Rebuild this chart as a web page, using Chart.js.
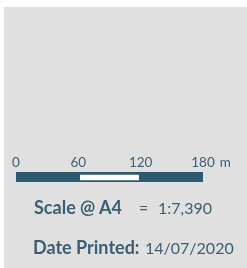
<!DOCTYPE html>
<html>
<head>
<meta charset="utf-8">
<script src="https://cdn.jsdelivr.net/npm/chart.js@4"></script>
<style>
  html, body { margin: 0; padding: 0; background: #ffffff; }
  body { width: 247px; height: 268px; position: relative; overflow: hidden; }
  #panel { position: absolute; left: 4px; top: 7px; right: 0; bottom: 0; background: #e0e0e0; }
  #wrap { position: absolute; left: 0; top: 0; width: 247px; height: 268px; }
  .t { position: absolute; white-space: nowrap; font-family: Lato, "Open Sans", sans-serif; color: #3a5f73; line-height: 1; }
  .b { font-weight: bold; }
</style>
</head>
<body>
<div id="panel"></div>
<div id="wrap"><canvas id="c" width="247" height="268"></canvas></div>
<span class="t b" id="scaleLbl" style="left:34px; top:198px; font-size:18px;"></span>
<span class="t" id="scaleEq" style="left:139px; top:200px; font-size:16px;"></span>
<span class="t" id="scaleVal" style="left:158px; top:200px; font-size:16px;"></span>
<span class="t b" id="dateLbl" style="left:33px; top:238px; font-size:18px;"></span>
<span class="t" id="dateVal" style="left:145px; top:240px; font-size:16px;"></span>
<script>
// ---- data ----
const tickValues = [0, 60, 120, 180];
const unitLabel = 'm';
const darkSegments = [[0, 60], [120, 180]];
const lightSegments = [[60, 120]];
const scaleLabel = 'Scale @ A4';
const scaleEquals = '=';
const scaleValue = '1:7,390';
const dateLabel = 'Date Printed:';
const dateValue = '14/07/2020';

document.getElementById('scaleLbl').textContent = scaleLabel;
document.getElementById('scaleEq').textContent = scaleEquals;
document.getElementById('scaleVal').textContent = scaleValue;
document.getElementById('dateLbl').textContent = dateLabel;
document.getElementById('dateVal').textContent = dateValue;

const DARK = '#2e5a6f';
const TEXT = '#3a5f73';
const TICK_FONT = 13.5;

const datasets = [];
darkSegments.forEach(s => datasets.push({
  data: [s], backgroundColor: DARK, borderWidth: 0, barPercentage: 1, categoryPercentage: 1
}));
lightSegments.forEach(s => datasets.push({
  data: [s], backgroundColor: '#ffffff', borderColor: DARK,
  borderWidth: {top: 3, bottom: 2, left: 2, right: 2}, borderSkipped: false,
  barPercentage: 1, categoryPercentage: 1
}));

const unitPlugin = {
  id: 'unit',
  afterDraw(chart) {
    const x = chart.scales.x;
    const ctx = chart.ctx;
    const last = tickValues[tickValues.length - 1];
    ctx.save();
    ctx.font = TICK_FONT + 'px Lato, "Open Sans", sans-serif';
    const w = ctx.measureText(String(last)).width;
    ctx.fillStyle = TEXT;
    ctx.textBaseline = 'alphabetic';
    ctx.textAlign = 'left';
    ctx.fillText(unitLabel, x.getPixelForValue(last) + w / 2 + 5, chart.chartArea.top - 5);
    ctx.restore();
  }
};

new Chart(document.getElementById('c'), {
  type: 'bar',
  data: { labels: [''], datasets },
  options: {
    indexAxis: 'y',
    responsive: false,
    animation: false,
    events: [],
    layout: { padding: { left: 16, right: 44, top: 140, bottom: 86 } },
    plugins: { legend: { display: false }, tooltip: { enabled: false } },
    datasets: { bar: { grouped: false } },
    scales: {
      x: {
        type: 'linear', position: 'top', min: 0, max: 180,
        afterBuildTicks(scale) { scale.ticks = tickValues.map(v => ({ value: v })); },
        afterFit(scale) { scale.height = 32; },
        grid: { display: false }, border: { display: false },
        ticks: { color: TEXT, font: { family: 'Lato, "Open Sans", sans-serif', size: TICK_FONT }, padding: -7, maxRotation: 0, autoSkip: false,
                 callback: v => String(v) }
      },
      y: { display: false }
    }
  },
  plugins: [unitPlugin]
});
</script>
</body>
</html>
